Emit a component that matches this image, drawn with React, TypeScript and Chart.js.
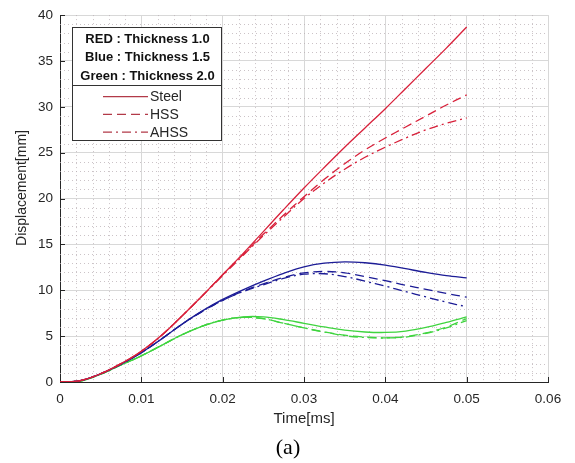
import React, { useEffect, useRef } from "react";
import { Chart, registerables } from "chart.js";

Chart.register(...registerables);

// ---- data ----
const TIME = [0, 0.0025, 0.005, 0.0075, 0.01, 0.0125, 0.015, 0.0175, 0.02, 0.0225, 0.025, 0.0275, 0.03, 0.0325, 0.035, 0.0375, 0.04, 0.0425, 0.045, 0.0475, 0.05];

const RED_STEEL = [0, 0.15, 0.9, 2.0, 3.35, 5.1, 7.2, 9.4, 11.7, 14.0, 16.4, 18.8, 21.15, 23.4, 25.6, 27.7, 29.8, 32.0, 34.2, 36.4, 38.7];
const RED_HSS = [0, 0.15, 0.9, 2.0, 3.35, 5.1, 7.2, 9.4, 11.7, 13.9, 16.1, 18.2, 20.2, 22.1, 23.8, 25.3, 26.6, 27.8, 29.0, 30.2, 31.3];
const RED_AHSS = [0, 0.15, 0.9, 2.0, 3.35, 5.1, 7.2, 9.4, 11.6, 13.8, 15.95, 18.0, 20.0, 21.7, 23.2, 24.5, 25.6, 26.6, 27.5, 28.2, 28.8];

const BLUE_STEEL = [0, 0.15, 0.9, 1.95, 3.2, 4.7, 6.3, 7.75, 9.0, 10.05, 11.0, 11.85, 12.55, 12.95, 13.1, 13.0, 12.75, 12.35, 11.95, 11.6, 11.35];
const BLUE_HSS = [0, 0.15, 0.9, 1.95, 3.2, 4.7, 6.3, 7.7, 8.9, 9.9, 10.7, 11.4, 11.9, 12.05, 11.9, 11.5, 11.05, 10.55, 10.1, 9.65, 9.25];
const BLUE_AHSS = [0, 0.15, 0.9, 1.95, 3.2, 4.7, 6.3, 7.7, 8.9, 9.85, 10.6, 11.3, 11.75, 11.8, 11.5, 11.0, 10.45, 9.85, 9.27, 8.7, 8.2];

const GREEN_STEEL = [0, 0.1, 0.85, 1.85, 2.85, 4.0, 5.15, 6.1, 6.75, 7.1, 7.1, 6.8, 6.4, 6.0, 5.65, 5.45, 5.4, 5.55, 5.95, 6.5, 7.1];
const GREEN_HSS = [0, 0.1, 0.85, 1.85, 2.85, 4.0, 5.15, 6.1, 6.75, 7.05, 6.9, 6.4, 5.9, 5.45, 5.1, 4.9, 4.82, 4.95, 5.35, 6.0, 6.9];
const GREEN_AHSS = [0, 0.1, 0.85, 1.85, 2.85, 4.0, 5.15, 6.1, 6.75, 7.05, 6.9, 6.4, 5.9, 5.45, 5.05, 4.85, 4.8, 4.9, 5.3, 5.9, 6.7];

const X_MIN = 0;
const X_MAX = 0.06;
const X_STEP = 0.01;
const X_MINOR_STEP = 0.002;
const Y_MIN = 0;
const Y_MAX = 40;
const Y_STEP = 5;
const Y_MINOR_STEP = 1;

const LEGEND_TITLES = ["RED : Thickness 1.0", "Blue : Thickness 1.5", "Green : Thickness 2.0"];
const LEGEND_ITEMS = ["Steel", "HSS", "AHSS"];
const X_TITLE = "Time[ms]";
const Y_TITLE = "Displacement[mm]";
const CAPTION = "(a)";

const RED = "#d8203a";
const BLUE = "#1c1c96";
const GREEN = "#3fd43f";
const LEGEND_LINE = "#b23a48";

const DASH = [9, 5];
const DASHDOT = [9, 4, 2, 4];
const STYLES = [[], DASH, DASHDOT];

function pts(vals: number[]) {
  return vals.map((v, i) => ({ x: TIME[i], y: v }));
}

const SERIES: { name: string; color: string; style: number; vals: number[] }[] = [
  { name: "Red Steel", color: RED, style: 0, vals: RED_STEEL },
  { name: "Red HSS", color: RED, style: 1, vals: RED_HSS },
  { name: "Red AHSS", color: RED, style: 2, vals: RED_AHSS },
  { name: "Blue Steel", color: BLUE, style: 0, vals: BLUE_STEEL },
  { name: "Blue HSS", color: BLUE, style: 1, vals: BLUE_HSS },
  { name: "Blue AHSS", color: BLUE, style: 2, vals: BLUE_AHSS },
  { name: "Green Steel", color: GREEN, style: 0, vals: GREEN_STEEL },
  { name: "Green HSS", color: GREEN, style: 1, vals: GREEN_HSS },
  { name: "Green AHSS", color: GREEN, style: 2, vals: GREEN_AHSS },
];

const FONT = '"Liberation Sans", Arial, sans-serif';

const extras = {
  id: "extras",
  beforeDatasetsDraw(chart: any) {
    const { ctx, chartArea: a } = chart;
    const xs = chart.scales.x;
    const ys = chart.scales.y;
    ctx.save();
    // minor dotted grid
    ctx.strokeStyle = "rgba(185,175,180,0.75)";
    ctx.lineWidth = 1;
    ctx.setLineDash([1, 3]);
    const nx = Math.round((X_MAX - X_MIN) / X_MINOR_STEP);
    const per = Math.round(X_STEP / X_MINOR_STEP);
    for (let i = 1; i < nx; i++) {
      if (i % per === 0) continue;
      const px = Math.round(xs.getPixelForValue(X_MIN + i * X_MINOR_STEP)) + 0.5;
      ctx.beginPath();
      ctx.moveTo(px, a.top);
      ctx.lineTo(px, a.bottom);
      ctx.stroke();
    }
    const ny = Math.round((Y_MAX - Y_MIN) / Y_MINOR_STEP);
    const pery = Math.round(Y_STEP / Y_MINOR_STEP);
    for (let j = 1; j < ny; j++) {
      if (j % pery === 0) continue;
      const py = Math.round(ys.getPixelForValue(Y_MIN + j * Y_MINOR_STEP)) + 0.5;
      ctx.beginPath();
      ctx.moveTo(a.left, py);
      ctx.lineTo(a.right, py);
      ctx.stroke();
    }
    ctx.setLineDash([]);
    // inward tick marks
    ctx.strokeStyle = "#262626";
    for (let v = X_MIN; v <= X_MAX + 1e-9; v += X_STEP) {
      const px = Math.round(xs.getPixelForValue(v)) + 0.5;
      ctx.beginPath();
      ctx.moveTo(px, a.bottom);
      ctx.lineTo(px, a.bottom - 5);
      ctx.stroke();
    }
    for (let v = Y_MIN; v <= Y_MAX + 1e-9; v += Y_STEP) {
      const py = Math.round(ys.getPixelForValue(v)) + 0.5;
      ctx.beginPath();
      ctx.moveTo(a.left, py);
      ctx.lineTo(a.left + 5, py);
      ctx.stroke();
    }
    ctx.restore();
  },
  afterDraw(chart: any) {
    const { ctx, chartArea: a } = chart;
    ctx.save();
    // axis titles
    ctx.fillStyle = "#262626";
    ctx.textAlign = "center";
    ctx.textBaseline = "middle";
    ctx.font = `15px ${FONT}`;
    ctx.fillText(X_TITLE, (a.left + a.right) / 2, 419);
    ctx.save();
    ctx.translate(22, 188);
    ctx.rotate(-Math.PI / 2);
    ctx.font = `14px ${FONT}`;
    ctx.fillText(Y_TITLE, 0, 0);
    ctx.restore();
    // caption
    ctx.fillStyle = "#000";
    ctx.font = '22px "Liberation Serif", "Times New Roman", serif';
    ctx.fillText(CAPTION, 288, 448);

    // legend box
    const lx = a.left + 12;
    const ly = a.top + 12;
    const w = 149;
    const h = 113;
    ctx.fillStyle = "#fff";
    ctx.fillRect(lx, ly, w, h);
    ctx.strokeStyle = "#333";
    ctx.lineWidth = 1;
    ctx.strokeRect(Math.round(lx) + 0.5, Math.round(ly) + 0.5, w, h);
    const divY = Math.round(ly + 58) + 0.5;
    ctx.beginPath();
    ctx.moveTo(lx, divY);
    ctx.lineTo(lx + w, divY);
    ctx.stroke();
    ctx.fillStyle = "#111";
    ctx.font = `bold 13px ${FONT}`;
    ctx.textAlign = "center";
    LEGEND_TITLES.forEach((t, i) => {
      ctx.fillText(t, lx + w / 2 + 1, ly + 12 + i * 18.5);
    });
    ctx.font = `14px ${FONT}`;
    ctx.textAlign = "left";
    LEGEND_ITEMS.forEach((t, i) => {
      const yy = ly + 69.5 + i * 17.8;
      ctx.strokeStyle = LEGEND_LINE;
      ctx.lineWidth = 1.2;
      ctx.setLineDash(STYLES[i]);
      ctx.beginPath();
      ctx.moveTo(lx + 31, yy);
      ctx.lineTo(lx + 76, yy);
      ctx.stroke();
      ctx.setLineDash([]);
      ctx.fillStyle = "#262626";
      ctx.fillText(t, lx + 78, yy + 0.5);
    });
    ctx.restore();
  },
};

export default function App() {
  const ref = useRef<HTMLCanvasElement | null>(null);
  useEffect(() => {
    document.body.style.margin = "0";
    const canvas = ref.current!;
    const chart = new Chart(canvas, {
      type: "line",
      data: {
        datasets: SERIES.map((s) => ({
          label: s.name,
          data: pts(s.vals),
          borderColor: s.color,
          backgroundColor: s.color,
          borderWidth: 1.3,
          borderDash: STYLES[s.style],
          pointRadius: 0,
          fill: false,
          tension: 0.35,
        })),
      },
      options: {
        animation: false,
        responsive: false,
        devicePixelRatio: 1,
        layout: { padding: { top: 10, right: 27, left: 0, bottom: 0 } },
        plugins: { legend: { display: false }, tooltip: { enabled: false }, title: { display: false } },
        scales: {
          x: {
            type: "linear",
            min: X_MIN,
            max: X_MAX,
            afterFit: (s: any) => {
              s.height = 81;
            },
            ticks: {
              stepSize: X_STEP,
              padding: 9,
              color: "#262626",
              font: { family: FONT, size: 13.5 },
              maxRotation: 0,
              callback: (v: any) => (Math.abs(v) < 1e-12 ? "0" : Number(v).toFixed(2)),
            },
            grid: { color: "#d8d8d8", drawTicks: false, lineWidth: 1 },
            border: { display: true, color: "#262626", width: 1 },
          },
          y: {
            type: "linear",
            min: Y_MIN,
            max: Y_MAX,
            afterFit: (s: any) => {
              s.width = 60;
            },
            ticks: {
              stepSize: Y_STEP,
              padding: 7,
              color: "#262626",
              font: { family: FONT, size: 13.5 },
            },
            grid: { color: "#d8d8d8", drawTicks: false, lineWidth: 1 },
            border: { display: true, color: "#262626", width: 1 },
          },
        },
      },
      plugins: [extras],
    });
    return () => chart.destroy();
  }, []);
  return (
    <div style={{ position: "absolute", left: 0, top: 0, width: 575, height: 463, background: "#fff" }}>
      <canvas ref={ref} width={575} height={463} style={{ display: "block", width: 575, height: 463 }} />
    </div>
  );
}
